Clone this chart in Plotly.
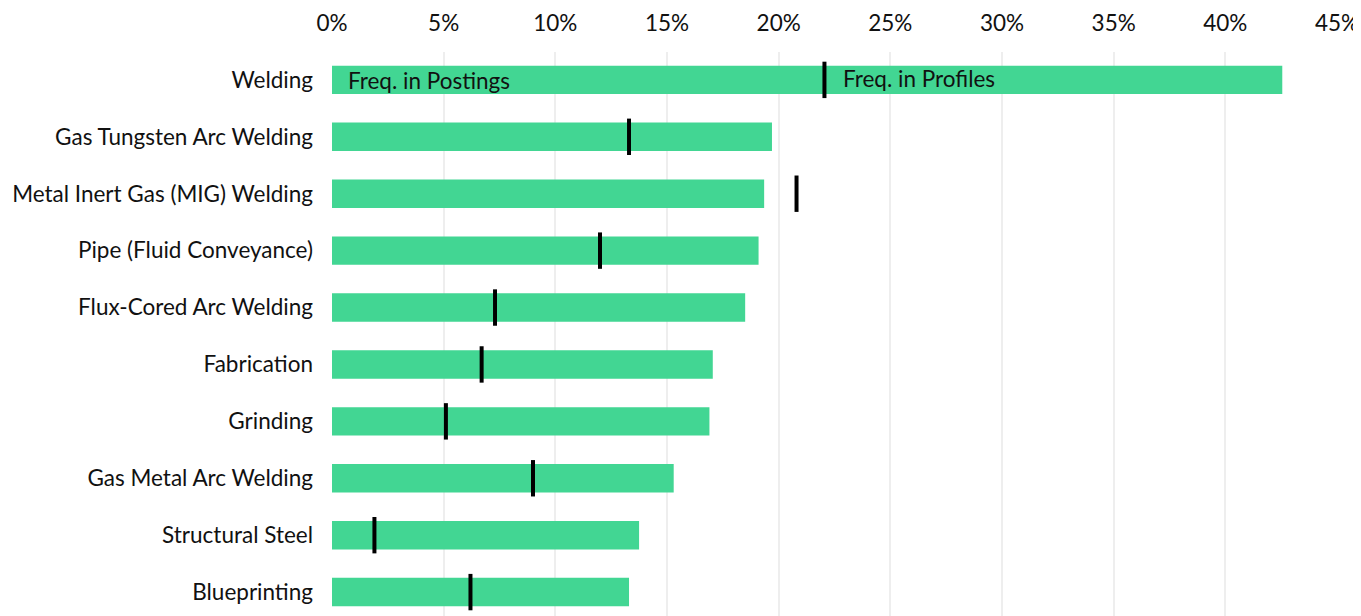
import plotly.graph_objects as go

# skills, share of job postings vs share of worker profiles (%)
skills = [
    "Welding",
    "Gas Tungsten Arc Welding",
    "Metal Inert Gas (MIG) Welding",
    "Pipe (Fluid Conveyance)",
    "Flux-Cored Arc Welding",
    "Fabrication",
    "Grinding",
    "Gas Metal Arc Welding",
    "Structural Steel",
    "Blueprinting",
]
freq_postings = [42.55, 19.7, 19.35, 19.1, 18.5, 17.05, 16.9, 15.3, 13.75, 13.3]
freq_profiles = [22.05, 13.3, 20.8, 12.0, 7.3, 6.7, 5.1, 9.0, 1.9, 6.2]
tick_vals = [0, 5, 10, 15, 20, 25, 30, 35, 40, 45]
tick_text = [f"{v}%" for v in tick_vals]

FONT = "Lato, sans-serif"
GREEN = "#42D693"
FS = 22.5

fig = go.Figure()

fig.add_trace(go.Bar(
    y=skills,
    x=freq_postings,
    orientation="h",
    width=0.5,
    marker=dict(color=GREEN, line=dict(width=0)),
    hovertemplate="%{y}: %{x:.1f}%<extra>Postings</extra>",
))

fig.add_trace(go.Scatter(
    y=skills,
    x=freq_profiles,
    mode="markers",
    marker=dict(symbol="line-ns", size=26, line=dict(color="black", width=4)),
    hovertemplate="%{y}: %{x:.1f}%<extra>Profiles</extra>",
))

# in-chart labels on the first bar
fig.add_annotation(x=0, y=skills[0], text="Freq. in Postings", showarrow=False,
                   xanchor="left", xshift=14, yshift=-1,
                   font=dict(size=FS, color="#111"))
fig.add_annotation(x=freq_profiles[0], y=skills[0], text="Freq. in Profiles", showarrow=False,
                   xanchor="left", xshift=17, yshift=1,
                   font=dict(size=FS, color="#111"))

# the page body adds an 8px margin, so the figure is 8px smaller
fig.update_layout(
    width=1353,
    height=608,
    margin=dict(l=324, r=24, t=44, b=0),
    paper_bgcolor="white",
    plot_bgcolor="white",
    showlegend=False,
    font=dict(family=FONT, size=FS, color="#111"),
    xaxis=dict(
        side="top",
        range=[0, 45],
        tickvals=tick_vals,
        ticktext=tick_text,
        showgrid=True,
        gridcolor="#EEEEEE",
        gridwidth=2,
        zeroline=False,
        showline=False,
        ticks="",
        ticklabelstandoff=16,
        tickfont=dict(size=FS, color="#111"),
    ),
    yaxis=dict(
        range=[9.42, -0.49],
        showgrid=False,
        zeroline=False,
        showline=False,
        ticks="",
        ticklabelstandoff=18,
        tickfont=dict(size=FS, color="#111"),
    ),
)

fig.write_html("out.html")
